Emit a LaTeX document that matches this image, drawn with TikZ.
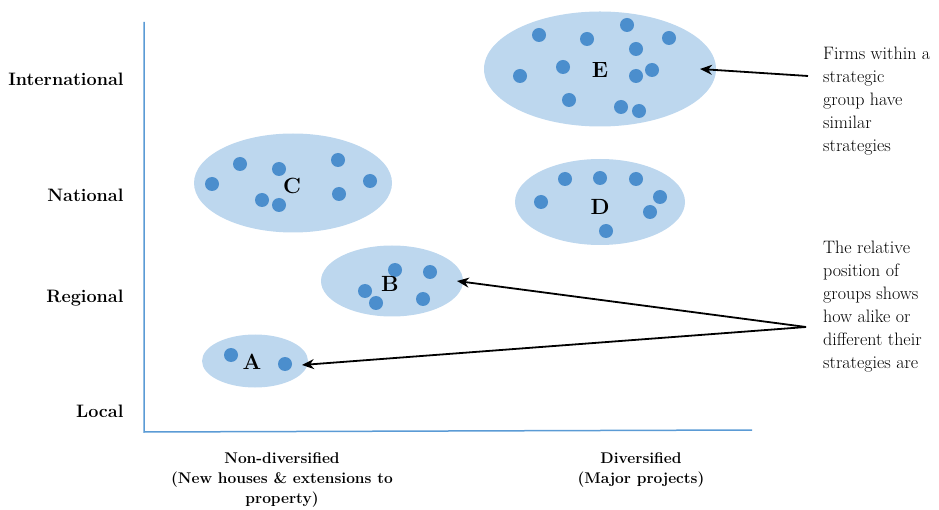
\documentclass[tikz,border=0pt]{standalone}
\usepackage{fontspec}
\usetikzlibrary{shapes.geometric,arrows.meta}
\definecolor{axisblue}{RGB}{91,155,213}
\definecolor{groupfill}{RGB}{189,215,238}
\definecolor{dotblue}{RGB}{75,142,205}
\begin{document}
\begin{tikzpicture}[x=1pt,y=-1pt,
  group/.style={ellipse,fill=groupfill,inner sep=0pt},
  grouplabel/.style={font=\fontsize{22}{22}\selectfont\bfseries},
  scalelabel/.style={anchor=east,font=\fontsize{18}{20}\selectfont\bfseries},
  axislabel/.style={align=center,font=\fontsize{15.5}{20}\selectfont\bfseries},
  note/.style={anchor=west,align=left,inner sep=0pt,font=\fontsize{18}{23}\selectfont},
  pointer/.style={-{Stealth[length=12pt,width=10pt]},line width=1.8pt}]
\useasboundingbox (0,0) rectangle (939,510);

% axes
\coordinate (Top) at (144,22); \coordinate (Origin) at (144,432); \coordinate (Right) at (752,430);
\draw[axisblue,line width=1.5pt] (Top) -- (Origin) -- (Right);

\node[scalelabel] (Intl) at (127,79) {International};
\node[scalelabel] (Natl) at (127,195) {National};
\node[scalelabel] (Regl) at (127,298) {Regional};
\node[scalelabel] (Locl) at (127,411) {Local};

\node[axislabel] (NonDiv) at (282,480) {Non-diversified\\(New houses \& extensions to\\property)};
\node[axislabel] (Div) at (641,470) {Diversified\\(Major projects)};

% the groups
\node[group,minimum width=232pt,minimum height=115pt] (E) at (600,69) {};
\node[group,minimum width=170pt,minimum height=86pt] (D) at (600,202) {};
\node[group,minimum width=198pt,minimum height=99pt] (C) at (293,183) {};
\node[group,minimum width=142pt,minimum height=71pt] (B) at (392,281) {};
\node[group,minimum width=106pt,minimum height=53pt] (A) at (255,361) {};

\foreach \p in {(539,35),(587,39),(627,25),(669,38),(636,49),(520,76),(563,67),(636,76),(652,70),(569,100),(621,107),(639,111),
  (565,179),(600,178),(636,179),(541,202),(660,197),(650,212),(606,231),
  (212,184),(240,164),(279,169),(338,160),(370,181),(339,194),(262,200),(279,205),
  (395,270),(430,272),(365,291),(376,303),(423,299),
  (231,355),(285,364)}
  \fill[dotblue] \p circle (7pt);

\node[grouplabel] (ELabel) at (600,70) {E};
\node[grouplabel] (DLabel) at (600,207) {D};
\node[grouplabel] (CLabel) at (292,186) {C};
\node[grouplabel] (BLabel) at (390,284) {B};
\node[grouplabel] (ALabel) at (252,362) {A};

% notes and pointers
\node[note] (Similar) at (823,101) {Firms within a\\strategic\\group have\\similar\\strategies};
\node[note] (Relative) at (823,307) {The relative\\position of\\groups shows\\how alike or\\different their\\strategies are};

\coordinate (SimStart) at (808,76); \coordinate (ETip) at (700,69);
\coordinate (RelStart) at (806,327); \coordinate (BTip) at (457,281); \coordinate (ATip) at (302,365);
\draw[pointer] (SimStart) -- (ETip);
\draw[pointer] (RelStart) -- (BTip);
\draw[pointer] (RelStart) -- (ATip);
\end{tikzpicture}
\end{document}
